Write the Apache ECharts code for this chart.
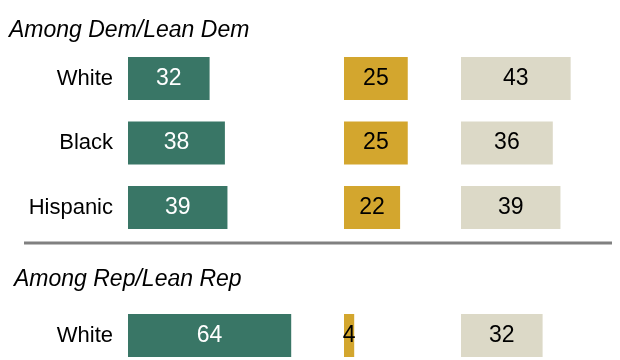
<!DOCTYPE html>
<html>
<head>
<meta charset="utf-8">
<style>html,body{margin:0;padding:0;background:#fff;}#c{width:620px;height:360px;}</style>
<script src="https://cdn.jsdelivr.net/npm/echarts@6/dist/echarts.min.js"></script>
</head>
<body>
<div id="c"></div>
<script>
// Data
var demCategories = ['White', 'Black', 'Hispanic'];
var repCategories = ['White'];
var groupTitles = ['Among Dem/Lean Dem', 'Among Rep/Lean Rep'];
var demGreen = [32, 38, 39];
var demGold = [25, 25, 22];
var demBeige = [43, 36, 39];
var repGreen = [64];
var repGold = [4];
var repBeige = [32];

var colors = ['#397666', '#D3A62E', '#DCD9C7'];
var labelColors = ['#ffffff', '#000000', '#000000'];
var gridLefts = [128, 344, 461];
var gridMax = [80, 40, 60];
var PX = 2.55;
var FONT = '"Liberation Sans", Arial, sans-serif';
var rowsDef = [
  {cats: demCategories, data: [demGreen, demGold, demBeige], top: 46.25, height: 193.5},
  {cats: repCategories, data: [repGreen, repGold, repBeige], top: 314, height: 43}
];

var chart = echarts.init(document.getElementById('c'), null, {renderer: 'canvas'});
var grids = [], xAxes = [], yAxes = [], series = [];
var idx = 0;
rowsDef.forEach(function (r) {
  for (var i = 0; i < 3; i++) {
    grids.push({left: gridLefts[i], top: r.top, width: gridMax[i] * PX, height: r.height, outerBoundsMode: 'none'});
    xAxes.push({type: 'value', gridIndex: idx, min: 0, max: gridMax[i], show: false});
    yAxes.push({
      type: 'category', gridIndex: idx, data: r.cats, inverse: true,
      axisLine: {show: false}, axisTick: {show: false}, splitLine: {show: false},
      axisLabel: {show: i === 0, margin: 15, color: '#000', fontSize: 22, fontFamily: FONT}
    });
    series.push({
      type: 'bar', xAxisIndex: idx, yAxisIndex: idx, data: r.data[i], barWidth: 43,
      itemStyle: {color: colors[i]}, silent: true, animation: false,
      label: {show: true, position: 'inside', color: labelColors[i], fontSize: 23, fontFamily: FONT}
    });
    idx++;
  }
});

chart.setOption({
  animation: false,
  title: [
    {text: groupTitles[0], left: 4, top: 14, textStyle: {fontStyle: 'italic', fontWeight: 'normal', fontSize: 23, color: '#000', fontFamily: FONT}},
    {text: groupTitles[1], left: 9, top: 263, textStyle: {fontStyle: 'italic', fontWeight: 'normal', fontSize: 23, color: '#000', fontFamily: FONT}}
  ],
  grid: grids, xAxis: xAxes, yAxis: yAxes, series: series,
  graphic: [{type: 'line', shape: {x1: 24, y1: 243, x2: 612, y2: 243}, style: {stroke: '#808080', lineWidth: 3}, silent: true}]
});
</script>
</body>
</html>
